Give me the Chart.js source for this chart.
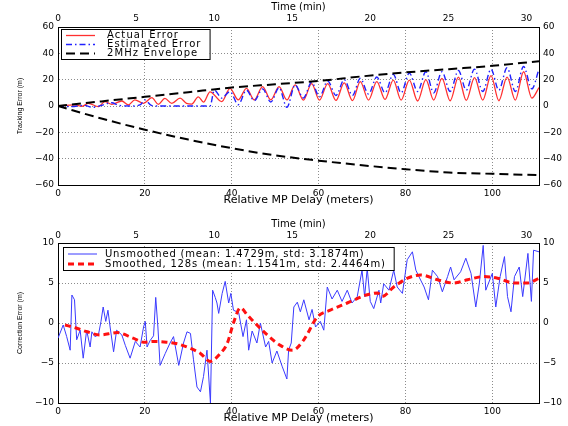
<!DOCTYPE html>
<html lang="en">
<head>
<meta charset="UTF-8">
<title>Tracking and correction error vs relative MP delay</title>
<script src="https://cdn.jsdelivr.net/npm/chart.js"></script>
<style>
  html, body { margin: 0; padding: 0; background: #fff; }
  canvas { display: block; }
</style>
</head>
<body>
<canvas id="trackChart" width="568" height="213"></canvas>
<canvas id="corrChart" width="568" height="213"></canvas>
<script>
// axis ranges (x in metres of relative MP delay, top axis in minutes)
const delayMax = 110.75;
const timeMax = 30.8;

// upper plot: [delay m, error m]
const actualError = [[0,0.2],[2,0.5],[3.9,0.8],[5.5,-0.3],[7,2],[9.3,-0.5],[10.8,3.3],[12.4,1.3],[14.7,3.8],[16.2,0.8],
  [17.7,4.6],[19.7,2],[21.6,6.3],[23.1,1.3],[24.6,5.8],[26.2,2],[28.1,6],[29.6,2],[30.8,1.5],[32.3,7],[33.5,3],[35,10.8],
  [37.7,3.3],[39.6,13.4],[41.5,4.6],[43.4,13.4],[45.2,4.6],[47.1,14.7],[49,4.6],[50.9,14.7],[52.7,4.6],[54.6,16],[56.5,4.5],
  [58.4,17],[60.2,4.5],[62.1,17],[64,4.2],[65.9,17.5],[67.8,4.1],[69.6,18.5],[71.5,4.5],[73.4,18.5],[75.3,5],[77.2,19.7],
  [79,4.5],[80.9,19.7],[82.8,3.8],[84.7,20],[86.5,4.5],[88.4,21],[90.3,4],[92.2,22],[94,4.2],[95.9,21.5],[97.8,4.5],
  [99.7,23],[101.5,4],[103.4,22],[105.3,4.5],[107.2,26],[109.1,6],[110.75,14]];

const estimatedError = [[0,0],[3,-0.5],[6,0.5],[8,-1],[10,0.5],[12.4,2.5],[14,0.5],[17,0],[19,1],[20,4.6],[21.5,0.5],
  [23,0],[35,0],[36,12],[37.7,6],[39.6,11],[41.5,1],[43.4,12],[45.2,4],[47.1,13],[49,3],[50.9,14],[52.7,-1],[54.6,16],
  [56.5,6],[58.4,18],[60.2,7],[62.1,19],[64,8],[65.9,20],[67.8,8],[69.6,21],[71.5,9],[73.4,22],[75.3,10],[77.2,24],
  [79,10],[80.9,25],[82.8,11],[84.7,26],[86.5,10],[88.4,26],[90.3,11],[92.2,27],[94,12],[95.9,28],[97.8,11],[99.7,28],
  [101.5,12],[103.4,29],[105.3,11],[107.2,30],[109.1,13],[110.75,28]];

const envelopeUpper = [[0,0],[10,3.5],[20,7],[30,10.5],[40,14],[50,16.5],[60,19],[70,22.5],[80,25.5],[90,28],[100,30.5],[110.75,34]];
const envelopeLower = [[0,0],[10,-9.5],[20,-18],[30,-25.5],[40,-32],[50,-37.5],[60,-41.5],[70,-45],[80,-48],[90,-50.5],[100,-51.5],[110.75,-52.5]];

// lower plot: [delay m, correction error m]
const unsmoothed = [[0,-1.9],[1.2,-0.25],[2,-1.7],[2.8,-3.4],[3.2,3.5],[3.8,2.9],[4.3,-2.1],[5.1,-0.9],[5.8,-4.4],[6.6,-0.9],
  [7.4,-3],[7.8,-1.1],[8.5,-1.7],[9.3,-1.5],[9.9,0.2],[10.4,2],[11,0.2],[11.5,1.6],[12,-0.5],[12.8,-3.6],[13.5,-0.9],
  [14.7,-1.5],[15.5,-2.8],[16.6,-4.4],[17.8,-2.3],[18.9,-3],[19.7,-0.5],[20.1,0.2],[20.5,-3],[21.2,-2.2],[22,-1.6],
  [22.5,3.2],[23,-0.5],[23.5,-5.3],[24.7,-3.8],[25.8,-2.5],[26.6,-1.7],[27.8,-5.3],[28.9,-2.5],[29.7,-1.1],[30.5,-1.3],
  [31.2,-4.6],[32,-8],[32.8,-8.6],[33.5,-6.7],[34.3,-3.4],[35.1,-10],[35.6,4.1],[36.2,3.2],[36.6,2.5],[37,1.2],[37.8,3.7],
  [38.5,5.2],[39.3,2.5],[39.8,3.7],[40.4,1.6],[41.6,1.3],[42.6,-1.7],[43.4,0.4],[43.9,-3.4],[44.7,-1],[45.8,-2.5],[46.6,0],
  [47.8,-3],[48.5,-2.3],[49.3,-5],[50.4,-3.5],[51.6,-5.4],[52.7,-7],[53.1,-3.4],[53.7,-2.5],[54.3,2],[55.1,2.6],[55.8,1.4],
  [56.6,2.9],[57.8,0.4],[58.5,1.7],[59.3,-0.5],[60.4,0.2],[61.2,-0.9],[62,4.5],[63.1,3],[64.3,4.1],[65.4,2.7],[66.6,4.1],
  [67.7,2.5],[68.9,3.3],[70,6.6],[70.6,3.3],[71.2,6.8],[71.9,2.7],[72.7,1.8],[73.9,4.1],[74.3,2.5],[75,4.9],[76.2,4.1],
  [77.3,6.6],[78.1,4.5],[79.3,3.7],[80.4,7.9],[81.6,8.9],[82.4,6.6],[83.1,5.8],[84.3,4.5],[85.3,2.9],[86.2,6.6],[87.4,5.8],
  [88.5,3.9],[89.7,5.8],[90.4,7],[91.2,5.4],[92.7,6.4],[93.9,8.1],[95.1,6.2],[96.2,2],[97,4.9],[97.9,9.7],[98.5,4.1],
  [100,6.2],[100.8,2],[101.8,5.8],[102.8,8.3],[103.5,3.3],[104.3,1.4],[105.1,5.8],[106.2,7],[107,3.3],[108.2,8.7],
  [109,2.7],[109.5,9.1],[110.75,8.9]];

const smoothed = [[1.6,-0.25],[4,-0.6],[6.7,-1.1],[9.7,-1.5],[13.6,-1.2],[17.3,-1.9],[19.7,-2.4],[22,-2.3],[25,-2.4],
  [27.5,-2.6],[29.7,-3],[32.8,-3.8],[35,-4.8],[37.4,-3.8],[39,-2.5],[40.4,0],[42,1.9],[43.6,1],[45.9,-0.3],[48.2,-1.5],
  [51.2,-2.8],[54,-3.4],[56.6,-2.1],[59.7,0.75],[62.7,1.6],[66.6,2.5],[71,3.5],[73.6,3.75],[74.6,3.3],[77.3,4.5],
  [80.5,5.6],[83.5,6],[87.4,5.4],[91,5],[94.3,5.4],[98,5.8],[101.2,5.6],[105,5],[108.2,5],[110.75,5.6]];

Chart.defaults.font.family = "'DejaVu Sans', Arial, sans-serif";
Chart.defaults.color = '#000';

const pts = arr => arr.map(p => ({ x: p[0], y: p[1] }));
const minusLabel = v => v < 0 ? '\u2212' + Math.abs(v) : String(v);

// legend drawn as a boxed inset in the top-left corner of the plot
const boxLegend = {
  id: 'boxLegend',
  afterDraw(chart, args, opts) {
    const { ctx, chartArea } = chart;
    const rows = chart.data.datasets.filter(d => !d.noLegend);
    ctx.save();
    ctx.font = opts.font;
    ctx.letterSpacing = opts.spacing;
    const textW = Math.max(...rows.map(d => ctx.measureText(d.label).width));
    const left = chartArea.left + opts.dx;
    const top = chartArea.top + opts.dy;
    const w = opts.textX + textW + 8;
    const h = rows.length * opts.rowH + 3;
    ctx.fillStyle = '#fff';
    ctx.fillRect(left, top, w, h);
    ctx.strokeStyle = '#000';
    ctx.lineWidth = 1;
    ctx.strokeRect(left + 0.5, top + 0.5, w, h);
    rows.forEach((d, i) => {
      const y = top + opts.rowH / 2 + 2 + i * opts.rowH;
      ctx.setLineDash(d.borderDash || []);
      ctx.strokeStyle = d.borderColor;
      ctx.lineWidth = d.borderWidth;
      ctx.beginPath();
      ctx.moveTo(left + 5, y);
      ctx.lineTo(left + 34, y);
      ctx.stroke();
      ctx.setLineDash([]);
      ctx.fillStyle = '#000';
      ctx.textBaseline = 'middle';
      ctx.fillText(d.label, left + opts.textX, y);
    });
    ctx.restore();
  }
};

function scales(cfg) {
  const tickFont = { size: 9 };
  const grid = { color: '#8c8c8c', drawTicks: false };
  const border = { color: '#000', width: 1, dash: [1, 2] };
  return {
    x: {
      type: 'linear', position: 'bottom', min: 0, max: delayMax,
      ticks: { stepSize: 20, includeBounds: false, font: tickFont, padding: 3, maxRotation: 0 },
      grid: grid, border: border,
      title: { display: true, text: 'Relative MP Delay (meters)', font: { size: 11 }, padding: { top: 0, bottom: cfg.xTitlePad } },
      afterFit: s => { s.height = cfg.xH; }
    },
    x2: {
      type: 'linear', position: 'top', min: 0, max: timeMax,
      ticks: { stepSize: 5, includeBounds: false, font: tickFont, padding: cfg.x2TickPad, maxRotation: 0 },
      grid: { drawOnChartArea: false, drawTicks: false }, border: { color: '#000', width: 1 },
      title: { display: true, text: 'Time (min)', font: { size: 10 }, padding: { top: cfg.x2TitlePad, bottom: 0 } },
      afterFit: s => { s.height = cfg.x2H; }
    },
    y: {
      type: 'linear', position: 'left', min: cfg.yMin, max: cfg.yMax,
      ticks: { stepSize: cfg.yStep, includeBounds: false, font: tickFont, padding: 4, callback: minusLabel },
      grid: grid, border: border,
      title: { display: true, text: cfg.yTitle, font: { size: 7, family: "'Liberation Sans', Arial, sans-serif" }, padding: { top: 16, bottom: 0 } },
      afterFit: s => { s.width = 58; }
    },
    y2: {
      type: 'linear', position: 'right', min: cfg.yMin, max: cfg.yMax,
      ticks: { stepSize: cfg.yStep, includeBounds: false, font: tickFont, padding: 4, callback: minusLabel },
      grid: { drawOnChartArea: false, drawTicks: false }, border: { color: '#000', width: 1 },
      afterFit: s => { s.width = 29; }
    }
  };
}

new Chart(document.getElementById('trackChart'), {
  type: 'line',
  data: {
    datasets: [
      { label: 'Actual Error', data: pts(actualError), borderColor: '#ff3030', borderWidth: 1.3,
        cubicInterpolationMode: 'monotone', order: 3 },
      { label: 'Estimated Error', data: pts(estimatedError), borderColor: '#2020ff', borderWidth: 1.4,
        borderDash: [6, 3, 1.5, 3], cubicInterpolationMode: 'monotone', order: 2 },
      { label: '2MHz Envelope', data: pts(envelopeUpper), borderColor: '#000', borderWidth: 2,
        borderDash: [9, 5], cubicInterpolationMode: 'monotone', order: 1 },
      { label: '2MHz Envelope', data: pts(envelopeLower), borderColor: '#000', borderWidth: 2,
        borderDash: [9, 5], cubicInterpolationMode: 'monotone', order: 0, noLegend: true }
    ]
  },
  options: {
    responsive: false, animation: false, devicePixelRatio: 1,
    layout: { padding: 0 },
    elements: { point: { radius: 0 } },
    plugins: {
      legend: { display: false }, tooltip: { enabled: false },
      boxLegend: { font: "10px 'DejaVu Sans', Arial, sans-serif", spacing: '1.1px', dx: 3, dy: 2, rowH: 9, textX: 46 }
    },
    scales: scales({ xH: 28, x2H: 27, xTitlePad: 6, x2TitlePad: 1, x2TickPad: 3, yMin: -60, yMax: 60, yStep: 20, yTitle: 'Tracking Error (m)' })
  },
  plugins: [boxLegend]
});

new Chart(document.getElementById('corrChart'), {
  type: 'line',
  data: {
    datasets: [
      { label: 'Unsmoothed (mean: 1.4729m, std: 3.1874m)', data: pts(unsmoothed), borderColor: '#3a3aff',
        borderWidth: 1, tension: 0, order: 1 },
      { label: 'Smoothed, 128s (mean: 1.1541m, std: 2.4464m)', data: pts(smoothed), borderColor: '#ff1010',
        borderWidth: 3, borderDash: [6, 4], cubicInterpolationMode: 'monotone', order: 0 }
    ]
  },
  options: {
    responsive: false, animation: false, devicePixelRatio: 1,
    layout: { padding: 0 },
    elements: { point: { radius: 0 } },
    plugins: {
      legend: { display: false }, tooltip: { enabled: false },
      boxLegend: { font: "10px 'DejaVu Sans', Arial, sans-serif", spacing: '0.8px', dx: 5, dy: 4, rowH: 10, textX: 42 }
    },
    scales: scales({ xH: 23, x2H: 30, xTitlePad: 1, x2TitlePad: 5, x2TickPad: 2, yMin: -10, yMax: 10, yStep: 5, yTitle: 'Correction Error (m)' })
  },
  plugins: [boxLegend]
});
</script>
</body>
</html>
